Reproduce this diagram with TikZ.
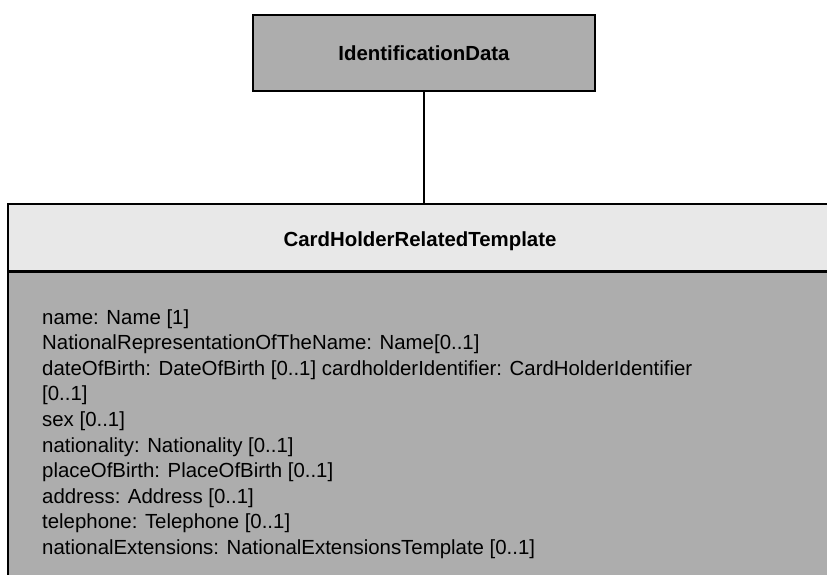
\documentclass[tikz,border=0pt]{standalone}
\usepackage{fontspec}
\setmainfont{Liberation Sans}
\begin{document}
\begin{tikzpicture}[x=1pt,y=-1pt,
  cls/.style={draw=black, line width=1.6pt, rectangle, inner sep=0pt, font=\fontsize{20.4}{24}\selectfont\bfseries},
  densefill/.style={fill=black!32},
  sparsefill/.style={fill=black!9},
  attr/.style={anchor=base west, inner sep=0pt, font=\fontsize{20.4}{24}\selectfont},
  link/.style={draw=black, line width=1.4pt}]
\useasboundingbox (0,0) rectangle (827,574);
\clip (0,0) rectangle (827,574);
% top class
\node[cls, densefill, minimum width=342pt, minimum height=76pt] (id) at (424,53) {IdentificationData};
% lower class header and body
\node[cls, sparsefill, minimum width=832pt, minimum height=67pt] (crt) at (424,237.5) {\raisebox{-4pt}[\height][\depth]{CardHolderRelatedTemplate}\hspace*{8pt}};
\node[cls, densefill, minimum width=832pt, minimum height=340pt, anchor=north] (crtbody) at (crt.south) {};
\draw[link] (id.south) -- (crt.north);
% attributes
\node[attr] (l1) at (42,324) {name: Name [1]};
\node[attr] (l2) at (42,349.6) {NationalRepresentationOfTheName: Name[0..1]};
\node[attr] (l3) at (42,375.2) {dateOfBirth: DateOfBirth [0..1] cardholderIdentifier: CardHolderIdentifier};
\node[attr] (l4) at (42,400.8) {[0..1]};
\node[attr] (l5) at (42,426.4) {sex [0..1]};
\node[attr] (l6) at (42,452.0) {nationality: Nationality [0..1]};
\node[attr] (l7) at (42,477.6) {placeOfBirth: PlaceOfBirth [0..1]};
\node[attr] (l8) at (42,503.2) {address: Address [0..1]};
\node[attr] (l9) at (42,528.8) {telephone: Telephone [0..1]};
\node[attr] (l10) at (42,554.4) {nationalExtensions: NationalExtensionsTemplate [0..1]};
\end{tikzpicture}
\end{document}
